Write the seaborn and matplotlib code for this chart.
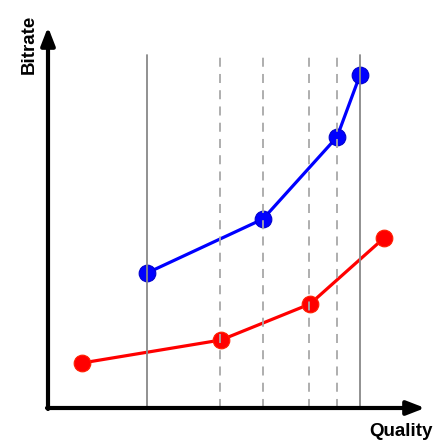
import matplotlib
matplotlib.use("Agg")
import matplotlib.pyplot as plt
import seaborn as sns
import pandas as pd

# data (in arbitrary units measured from the origin)
blue_x = [99, 215, 289, 312]
blue_y = [135, 189, 271, 333]
red_x = [34, 173, 262, 336]
red_y = [45, 68, 104, 170]
solid_lines = [99, 312]
dashed_lines = [172, 215, 261, 289]
line_top = 353

sns.set_theme(style="white")
plt.rcParams['font.family'] = ['Liberation Sans', 'DejaVu Sans']

W, H = 435, 441
fig = plt.figure(figsize=(W / 100, H / 100), dpi=100)
fig.patch.set_facecolor("white")
ox, oy = 48, 408
ax = fig.add_axes([ox / W, (H - oy) / H, (425 - ox) / W, (oy - 27) / H])
ax.set_xlim(0, 377)
ax.set_ylim(0, 381)
ax.set_facecolor("white")
for s in ax.spines.values():
    s.set_visible(False)
ax.set_xticks([])
ax.set_yticks([])

df_b = pd.DataFrame({"x": blue_x, "y": blue_y})
df_r = pd.DataFrame({"x": red_x, "y": red_y})
sns.lineplot(data=df_b, x="x", y="y", ax=ax, color="#0000ff", lw=2.3,
             marker="o", markersize=12, markeredgecolor="#0000cc",
             markeredgewidth=0.8, zorder=3)
sns.lineplot(data=df_r, x="x", y="y", ax=ax, color="#ff0000", lw=2.3,
             marker="o", markersize=12, markeredgecolor="#ff2000",
             markeredgewidth=0.8, zorder=3)
ax.set_xlabel("")
ax.set_ylabel("")

for xv in solid_lines:
    ax.plot([xv, xv], [0, line_top], color="#888888", lw=1.3, zorder=4)
for xv in dashed_lines:
    ax.plot([xv, xv], [0, line_top], color="#a8a8a8", lw=1.3,
            ls=(0, (5, 4)), zorder=4)

# axes with arrows
ax.annotate("", xy=(377, 0), xytext=(-1, 0), xycoords="data",
            arrowprops=dict(arrowstyle="-|>,head_length=0.9,head_width=0.35",
                            color="black", lw=3, shrinkA=0, shrinkB=0),
            annotation_clip=False, zorder=5)
ax.annotate("", xy=(0, 381), xytext=(0, -1), xycoords="data",
            arrowprops=dict(arrowstyle="-|>,head_length=0.9,head_width=0.35",
                            color="black", lw=3, shrinkA=0, shrinkB=0),
            annotation_clip=False, zorder=5)

fig.text(29 / W, 1 - 44 / H, "Bitrate", rotation=90, ha="center", va="center",
         fontsize=13.5, fontweight="bold", color="black")
fig.text(401 / W, 1 / H, "Quality", ha="center", va="bottom",
         fontsize=13.5, fontweight="bold", color="black")

fig.savefig("out.png", dpi=100)
